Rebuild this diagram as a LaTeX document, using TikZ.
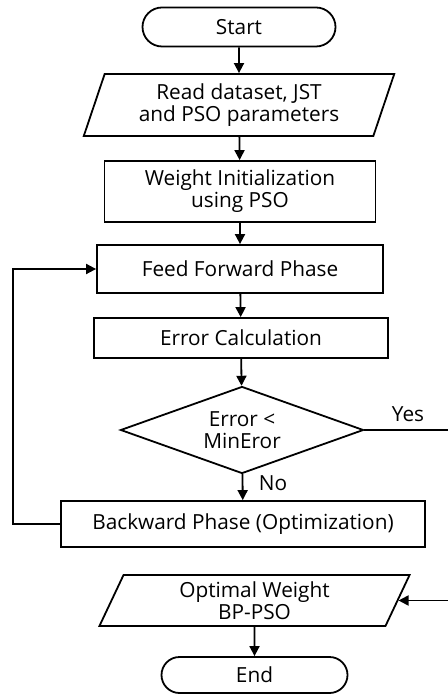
\documentclass[tikz,border=0pt]{standalone}
\usepackage{fontspec}
\setmainfont{Open Sans}[Ligatures=NoCommon]
\usetikzlibrary{shapes.geometric,shapes.misc,arrows.meta}

\begin{document}
\begin{tikzpicture}[x=0.5pt,y=-0.5pt,->,>={Triangle[width=5pt,length=5pt]},line width=0.9pt,font=\fontsize{10.4}{11}\selectfont]
    \tikzstyle{terminal}=[draw,rounded rectangle,minimum height=19.5pt,inner sep=0pt]
    \tikzstyle{io}=[draw,trapezium,trapezium left angle=70,trapezium right angle=110,trapezium stretches=true,minimum width=155.5pt,inner sep=0pt,align=center]
    \tikzstyle{process}=[draw,rectangle,inner sep=0pt,align=center]
    \tikzstyle{decision}=[draw,diamond,aspect=2.8,minimum width=121.5pt,minimum height=43.5pt,inner sep=0pt,align=center]
    \tikzstyle{annot}=[inner sep=0pt]

    \useasboundingbox (0,0) rectangle (448,694);

    % Main chain
    \node[terminal, minimum width=96.5pt] (start) at (239,27) {Start};
    \node[io, minimum height=31pt] (read) at (239,105) {Read dataset, JST\\and PSO parameters};
    \node[process, minimum width=135.5pt, minimum height=30.5pt] (init) at (240,191.5) {Weight Initialization\\using PSO};
    \node[process, minimum width=143pt, minimum height=24pt] (ff) at (240,269) {Feed Forward Phase};
    \node[process, minimum width=147pt, minimum height=20pt] (err) at (241,338) {Error Calculation};
    \node[decision] (dec) at (242,430) {Error <\\MinEror};
    \node[process, minimum width=182pt, minimum height=23pt] (bp) at (243,524) {Backward Phase (Optimization)};
    \node[io, minimum height=25.5pt] (opt) at (254.5,600.5) {Optimal Weight\\BP-PSO};
    \node[terminal, minimum width=93pt, minimum height=18pt] (end) at (254.5,675) {End};

    \path (start) edge (read);
    \path (read) edge (init);
    \path (init) edge (ff);
    \path (ff) edge (err);
    \path (err) edge (dec);
    \path (dec) edge (bp);
    \path (opt) edge (end);

    % Loop back and exit
    \coordinate (yes-turn) at (470,430);
    \draw (bp.west) -- ++(-47,0) |- (ff.west);
    \draw (dec.east) -- (yes-turn) |- (opt.east);

    % Annotate the branches
    \node[annot] (yes) at (408,414) {Yes};
    \node[annot] (no) at (273,483) {No};
\end{tikzpicture}
\end{document}
